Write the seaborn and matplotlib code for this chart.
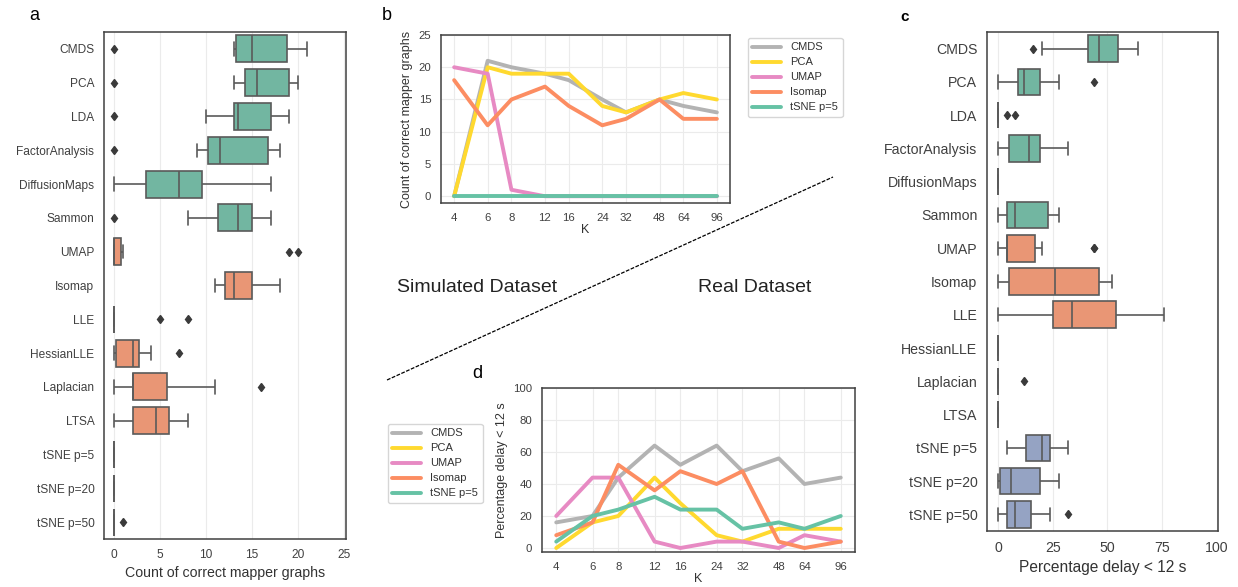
import numpy as np
import pandas as pd
import matplotlib
matplotlib.use("Agg")
import matplotlib.pyplot as plt
from matplotlib.lines import Line2D
from matplotlib.ticker import NullLocator
import seaborn as sns

# ---------------- data ----------------
K = [4, 6, 8, 12, 16, 24, 32, 48, 64, 96]
methods = ["CMDS", "PCA", "LDA", "FactorAnalysis", "DiffusionMaps", "Sammon",
           "UMAP", "Isomap", "LLE", "HessianLLE", "Laplacian", "LTSA",
           "tSNE p=5", "tSNE p=20", "tSNE p=50"]
method_group = ["global"] * 6 + ["local"] * 6 + ["tsne"] * 3
line_methods = ["CMDS", "PCA", "UMAP", "Isomap", "tSNE p=5"]

# simulated dataset: count of correct mapper graphs per K
sim_cmds = [0, 21, 20, 19, 18, 15, 13, 15, 14, 13]
sim_pca = [0, 20, 19, 19, 19, 14, 13, 15, 16, 15]
sim_lda = [0, 10, 13, 13, 13, 14, 17, 17, 18, 19]
sim_factor = [0, 9, 10, 11, 11, 12, 16, 17, 17, 18]
sim_diffusion = [0, 1, 3, 5, 7, 7, 8, 10, 13, 17]
sim_sammon = [0, 8, 11, 12, 13, 14, 15, 15, 16, 17]
sim_umap = [20, 19, 1, 0, 0, 0, 0, 0, 0, 0]
sim_isomap = [18, 11, 15, 17, 14, 11, 12, 15, 12, 12]
sim_lle = [0, 0, 0, 0, 0, 0, 0, 0, 5, 8]
sim_hessian = [0, 0, 0, 1, 2, 2, 2, 3, 4, 7]
sim_laplacian = [0, 1, 2, 2, 2, 2, 5, 6, 11, 16]
sim_ltsa = [0, 1, 2, 2, 4, 5, 6, 6, 7, 8]
sim_tsne5 = [0, 0, 0, 0, 0, 0, 0, 0, 0, 0]
sim_tsne20 = [0, 0, 0, 0, 0, 0, 0, 0, 0, 0]
sim_tsne50 = [0, 0, 0, 0, 0, 0, 0, 0, 0, 1]

# real dataset: percentage delay < 12 s per K
real_cmds = [16, 20, 44, 64, 52, 64, 48, 56, 40, 44]
real_pca = [0, 16, 20, 44, 28, 8, 4, 12, 12, 12]
real_lda = [0, 0, 0, 0, 0, 0, 0, 0, 4, 8]
real_factor = [0, 0, 4, 8, 12, 16, 16, 20, 28, 32]
real_diffusion = [0, 0, 0, 0, 0, 0, 0, 0, 0, 0]
real_sammon = [0, 4, 4, 4, 8, 8, 20, 24, 24, 28]
real_umap = [20, 44, 44, 4, 0, 4, 4, 0, 8, 4]
real_isomap = [8, 16, 52, 36, 48, 40, 48, 4, 0, 4]
real_lle = [0, 12, 24, 28, 32, 36, 48, 56, 64, 76]
real_hessian = [0, 0, 0, 0, 0, 0, 0, 0, 0, 0]
real_laplacian = [0, 0, 0, 0, 0, 0, 0, 0, 0, 12]
real_ltsa = [0, 0, 0, 0, 0, 0, 0, 0, 0, 0]
real_tsne5 = [4, 20, 24, 32, 24, 24, 12, 16, 12, 20]
real_tsne20 = [0, 0, 0, 4, 4, 8, 16, 20, 24, 28]
real_tsne50 = [0, 4, 4, 4, 8, 8, 12, 16, 24, 32]

sim_series = [sim_cmds, sim_pca, sim_lda, sim_factor, sim_diffusion, sim_sammon,
              sim_umap, sim_isomap, sim_lle, sim_hessian, sim_laplacian, sim_ltsa,
              sim_tsne5, sim_tsne20, sim_tsne50]
real_series = [real_cmds, real_pca, real_lda, real_factor, real_diffusion, real_sammon,
               real_umap, real_isomap, real_lle, real_hessian, real_laplacian, real_ltsa,
               real_tsne5, real_tsne20, real_tsne50]


def long_df(series):
    rows = []
    for m, g, vals in zip(methods, method_group, series):
        for k, v in zip(K, vals):
            rows.append((m, g, k, v))
    return pd.DataFrame(rows, columns=["method", "group", "K", "value"])


sim_df = long_df(sim_series)
real_df = long_df(real_series)

# ---------------- style ----------------
sns.set_style("whitegrid", {"axes.edgecolor": ".25", "grid.color": "#ebebeb",
                            "text.color": ".2", "xtick.color": ".25",
                            "ytick.color": ".25", "axes.labelcolor": ".2"})
plt.rcParams["font.family"] = ["Liberation Sans", "DejaVu Sans"]
plt.rcParams["axes.linewidth"] = 1.1

set2 = sns.color_palette("Set2")
box_pal = {"global": set2[0], "local": set2[1], "tsne": set2[2]}
line_pal = {"CMDS": set2[7], "PCA": set2[5], "UMAP": set2[3],
            "Isomap": set2[1], "tSNE p=5": set2[0]}

W, H = 1238, 587
fig = plt.figure(figsize=(W / 100, H / 100), dpi=100)


def rect(l, t, r, b):
    return [l / W, 1 - b / H, (r - l) / W, (b - t) / H]


flier = dict(marker="d", markerfacecolor="#3a3a3a", markeredgecolor="#3a3a3a",
             markersize=4.5)


def box_panel(ax, df, xlim, ticks, xlabel, tfs, lfs):
    sns.boxplot(data=df, x="value", y="method", hue="group", order=methods,
                palette=box_pal, dodge=False, legend=False, width=0.8,
                linecolor="#5a5a5a", linewidth=1.2, flierprops=flier, ax=ax)
    ax.set_xlim(*xlim)
    ax.set_xticks(ticks)
    ax.set_xlabel(xlabel, fontsize=lfs)
    ax.set_ylabel("")
    ax.tick_params(axis="both", labelsize=tfs)


ax_a = fig.add_axes(rect(104, 32, 346, 539))
box_panel(ax_a, sim_df, (-1.1, 25.2), [0, 5, 10, 15, 20, 25],
          "Count of correct mapper graphs", 8.6, 10.2)

ax_c = fig.add_axes(rect(987, 32, 1218, 531))
box_panel(ax_c, real_df, (-5, 100.5), [0, 25, 50, 75, 100],
          "Percentage delay < 12 s", 10.2, 11.2)


def line_panel(ax, df, ylim, yticks, ylabel):
    d = df[df["method"].isin(line_methods)]
    sns.lineplot(data=d, x="K", y="value", hue="method", hue_order=line_methods,
                 palette=line_pal, linewidth=2.8, ax=ax, legend=True)
    ax.set_xscale("log", base=2)
    ax.set_xticks(K)
    ax.set_xticklabels([str(k) for k in K])
    ax.xaxis.set_minor_locator(NullLocator())
    ax.set_ylim(*ylim)
    ax.set_yticks(yticks)
    ax.set_ylabel(ylabel, fontsize=9)
    ax.set_xlabel("K", fontsize=9, labelpad=1)
    ax.tick_params(axis="both", labelsize=8.2)
    h, l = ax.get_legend_handles_labels()
    ax.get_legend().remove()
    return h, l


ax_b = fig.add_axes(rect(441, 35, 730, 203))
hb, lb = line_panel(ax_b, sim_df, (-1.05, 25), [0, 5, 10, 15, 20, 25],
                    "Count of correct mapper graphs")
fig.legend(hb, lb, loc="upper left", bbox_to_anchor=(748 / W, 1 - 38 / H),
           fontsize=8, handlelength=2.6, frameon=True, borderaxespad=0,
           labelspacing=0.45, edgecolor="#cccccc")

ax_d = fig.add_axes(rect(542, 388, 855, 552))
hd, ld = line_panel(ax_d, real_df, (-2.5, 100), [0, 20, 40, 60, 80, 100],
                    "Percentage delay < 12 s")
fig.legend(hd, ld, loc="upper left", bbox_to_anchor=(388 / W, 1 - 424 / H),
           fontsize=8, handlelength=2.6, frameon=True, borderaxespad=0,
           labelspacing=0.45, edgecolor="#cccccc")

# panel letters
fig.text(34 / W, 1 - 15 / H, "a", fontsize=13, ha="center", va="center", color="black")
fig.text(387 / W, 1 - 15 / H, "b", fontsize=13, ha="center", va="center", color="black")
fig.text(905 / W, 1 - 17 / H, "c", fontsize=11, ha="center", va="center",
         color="black", fontweight="bold")
fig.text(477 / W, 1 - 373 / H, "d", fontsize=13, ha="center", va="center", color="black")

# divider
fig.add_artist(Line2D([387 / W, 833 / W], [1 - 380 / H, 1 - 177 / H],
                      color="black", lw=0.9, ls=(0, (3, 1.2))))
fig.text(477 / W, 1 - 287 / H, "Simulated Dataset", fontsize=14, ha="center",
         va="center", color="#222222")
fig.text(755 / W, 1 - 287 / H, "Real Dataset", fontsize=14, ha="center",
         va="center", color="#222222")

fig.savefig("out.png", dpi=100)
